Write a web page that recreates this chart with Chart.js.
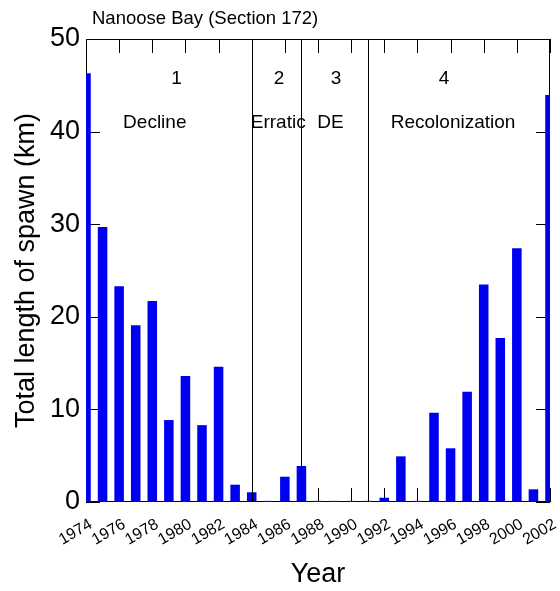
<!DOCTYPE html>
<html>
<head>
<meta charset="utf-8">
<script src="https://cdn.jsdelivr.net/npm/chart.js@4"></script>
<style>
  html, body { margin: 0; padding: 0; background: #fff; }
  #wrap { width: 560px; height: 591px; }
</style>
</head>
<body>
<div id="wrap"><canvas id="c"></canvas></div>
<script>
const years = [1974, 1975, 1976, 1977, 1978, 1979, 1980, 1981, 1982, 1983, 1984, 1985, 1986, 1987,
    1988, 1989, 1990, 1991, 1992, 1993, 1994, 1995, 1996, 1997, 1998, 1999, 2000, 2001, 2002];
const spawnKm = [46.3, 29.7, 23.3, 19.1, 21.7, 8.85, 13.6, 8.3, 14.6, 1.87, 1.05, 0.12, 2.73, 3.89,
    0.12, 0.12, 0.12, 0.12, 0.46, 4.93, 0.12, 9.65, 5.8, 11.9, 23.5, 17.7, 27.4, 1.37, 43.95];
const yTicks = [0, 10, 20, 30, 40, 50];
const xTicks = [1974, 1976, 1978, 1980, 1982, 1984, 1986, 1988, 1990, 1992, 1994, 1996, 1998, 2000, 2002];

// phase boundaries and labels
const phaseBounds = [1984, 1987, 1991];
const phaseNums = ["1", "2", "3", "4"];
const phaseNames = ["Decline", "Erratic", "DE", "Recolonization"];
const numAt = [1979.47, 1985.65, 1989.09, 1995.6];
const nameAt = [1978.15, 1985.6, 1988.75, 1996.15];

const FONT = "'Liberation Sans', Arial, sans-serif";

const frame = {
    id: "frame",
    beforeDatasetsDraw(chart) {
        const { ctx, chartArea: a, scales: { x, y } } = chart;
        ctx.save();
        ctx.strokeStyle = "#000";
        ctx.lineWidth = 1;
        ctx.beginPath();
        xTicks.forEach(v => {
            const px = Math.round(x.getPixelForValue(v)) + 0.5;
            ctx.moveTo(px, a.top); ctx.lineTo(px, a.top + 14);
            ctx.moveTo(px, a.bottom); ctx.lineTo(px, a.bottom - 14);
        });
        yTicks.forEach(v => {
            const py = Math.round(y.getPixelForValue(v)) + 0.5;
            ctx.moveTo(a.left, py); ctx.lineTo(a.left + 14, py);
            ctx.moveTo(a.right, py); ctx.lineTo(a.right - 14, py);
        });
        ctx.stroke();
        ctx.strokeRect(Math.round(a.left) + 0.5, Math.round(a.top) + 0.5,
            Math.round(a.width) - 1, Math.round(a.height) - 1);
        ctx.restore();
    },
    afterDatasetsDraw(chart) {
        const { ctx, chartArea: a, scales: { x } } = chart;
        ctx.save();
        ctx.strokeStyle = "#000";
        ctx.lineWidth = 1;
        ctx.beginPath();
        phaseBounds.forEach(v => {
            const px = Math.round(x.getPixelForValue(v)) + 0.5;
            ctx.moveTo(px, a.top); ctx.lineTo(px, a.bottom);
        });
        ctx.stroke();

        ctx.fillStyle = "#000";
        ctx.textAlign = "center";
        ctx.textBaseline = "middle";
        ctx.font = "19px " + FONT;
        phaseNums.forEach((t, i) => ctx.fillText(t, x.getPixelForValue(numAt[i]), a.top + 40));
        phaseNames.forEach((t, i) => ctx.fillText(t, x.getPixelForValue(nameAt[i]), a.top + 84));

        ctx.textAlign = "left";
        ctx.font = "18.5px " + FONT;
        ctx.fillText("Nanoose Bay (Section 172)", 92, 19);
        ctx.restore();
    }
};

new Chart(document.getElementById("c"), {
    type: "bar",
    data: {
        labels: years,
        datasets: [{
            data: spawnKm,
            backgroundColor: "#0000f0",
            borderWidth: 0,
            categoryPercentage: 0.8,
            barPercentage: 0.72,
            clip: 0
        }]
    },
    options: {
        responsive: true,
        maintainAspectRatio: false,
        animation: false,
        layout: { padding: { left: 0, right: 10, top: 39, bottom: 0 } },
        plugins: { legend: { display: false }, tooltip: { enabled: false } },
        scales: {
            x: {
                type: "linear",
                min: 1974,
                max: 2002,
                offset: false,
                grid: { display: false, drawTicks: false, offset: false },
                border: { display: false },
                afterFit: s => { s.height = 89; s.paddingLeft = 0; s.paddingRight = 0; },
                ticks: {
                    stepSize: 2,
                    color: "#000",
                    font: { family: FONT, size: 16 },
                    padding: 13,
                    labelOffset: 5,
                    minRotation: 30,
                    maxRotation: 30,
                    autoSkip: false,
                    callback: v => String(v)
                },
                title: {
                    display: true,
                    text: "Year",
                    color: "#000",
                    font: { family: FONT, size: 27 },
                    padding: { top: 0, bottom: 0 }
                }
            },
            y: {
                min: 0,
                max: 50,
                grid: { display: false, drawTicks: false },
                border: { display: false },
                afterFit: s => { s.width = 86; },
                ticks: {
                    stepSize: 10,
                    color: "#000",
                    font: { family: FONT, size: 27 },
                    padding: 6
                },
                title: {
                    display: true,
                    text: "Total length of spawn (km)",
                    color: "#000",
                    font: { family: FONT, size: 27 },
                    padding: { top: 10, bottom: 0 }
                }
            }
        }
    },
    plugins: [frame]
});
</script>
</body>
</html>
